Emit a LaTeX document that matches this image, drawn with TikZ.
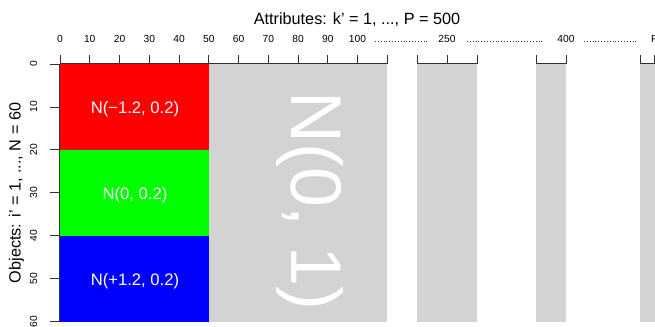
\documentclass[tikz,border=0pt]{standalone}
\usepackage{fontspec}
\setmainfont{Liberation Sans}
\definecolor{rgray}{HTML}{D3D3D3}
\definecolor{rred}{HTML}{FF0000}
\definecolor{rgreen}{HTML}{00FF00}
\definecolor{rblue}{HTML}{0000FF}
\definecolor{axisc}{HTML}{333333}
\begin{document}
\begin{tikzpicture}[x=1bp,y=-1bp,
  axisline/.style={draw=axisc, line width=0.7bp},
  ticklab/.style={font=\fontsize{10.3}{12}\selectfont, inner sep=0pt, anchor=base},
  titlelab/.style={font=\fontsize{16.3}{19}\selectfont, inner sep=0pt, anchor=base},
  boxlab/.style={font=\fontsize{16.7}{19}\selectfont, text=white, inner sep=0pt, anchor=base},
  biglab/.style={font=\fontsize{72}{80}\selectfont, text=white, inner sep=0pt, anchor=base, rotate=-90},
  dotsline/.style={draw=axisc, line width=0.9bp, dash pattern=on 0.9bp off 1.96bp}]
\useasboundingbox (0,0) rectangle (655,326);
% blocks
\fill[rgray] (208.75,64) rectangle (387.25,321.5);
\fill[rgray] (417,64) rectangle (476.5,321.5);
\fill[rgray] (536,64) rectangle (566,321.5);
\fill[rgray] (640,64) rectangle (655,321.5);
\fill[rred] (60,64) rectangle (208.75,150);
\fill[rgreen] (60,150) rectangle (208.75,236);
\fill[rblue] (60,236) rectangle (208.75,321.5);
% labels
\node[boxlab] (lr) at (135,113) {N(−1.2, 0.2)};
\node[boxlab] (lg) at (135,199) {N(0, 0.2)};
\node[boxlab] (lb) at (135,285) {N(+1.2, 0.2)};
\node[biglab] (big) at (291,201) {N(0, 1)};
% titles
\node[titlelab] (xt) at (357,24) {Attributes: k’ = 1, ..., P = 500};
\node[titlelab, rotate=90] (yt) at (20.5,193) {Objects: i’ = 1, ..., N = 60};
% x axis
\draw[axisline] (60,63.5) -- (387.25,63.5);
\foreach \k in {0,1,...,11}{
  \draw[axisline] ({60+29.75*\k},63.5) -- ({60+29.75*\k},55);
}
\foreach \k in {0,1,...,10}{
  \pgfmathtruncatemacro{\lab}{10*\k}
  \node[ticklab] (xl\k) at ({60+29.75*\k},42.3) {\lab};
}
\draw[axisline] (417,63.5) -- (477,63.5);
\foreach \xx in {417,447,477}{\draw[axisline] (\xx,63.5) -- (\xx,55);}
\node[ticklab] (x250) at (447,42.3) {250};
\draw[axisline] (536,63.5) -- (566,63.5);
\foreach \xx in {536,566}{\draw[axisline] (\xx,63.5) -- (\xx,55);}
\node[ticklab] (x400) at (566,42.3) {400};
\draw[axisline] (640,63.5) -- (655,63.5);
\foreach \xx in {640,654.5}{\draw[axisline] (\xx,63.5) -- (\xx,55);}
\node[ticklab] (xP) at (654.5,42.3) {P};
% dotted gaps
\draw[dotsline] (375,41.6) -- (429,41.6);
\draw[dotsline] (467,41.6) -- (544,41.6);
\draw[dotsline] (584,41.6) -- (636,41.6);
% y axis
\draw[axisline] (59.3,64) -- (59.3,321.5);
\foreach \k in {0,1,...,6}{
  \pgfmathtruncatemacro{\lab}{10*\k}
  \draw[axisline] (59.3,{64+42.9*\k}) -- (49.5,{64+42.9*\k});
  \node[ticklab, rotate=90] (yl\k) at (37,{64+42.9*\k}) {\lab};
}
\end{tikzpicture}
\end{document}
